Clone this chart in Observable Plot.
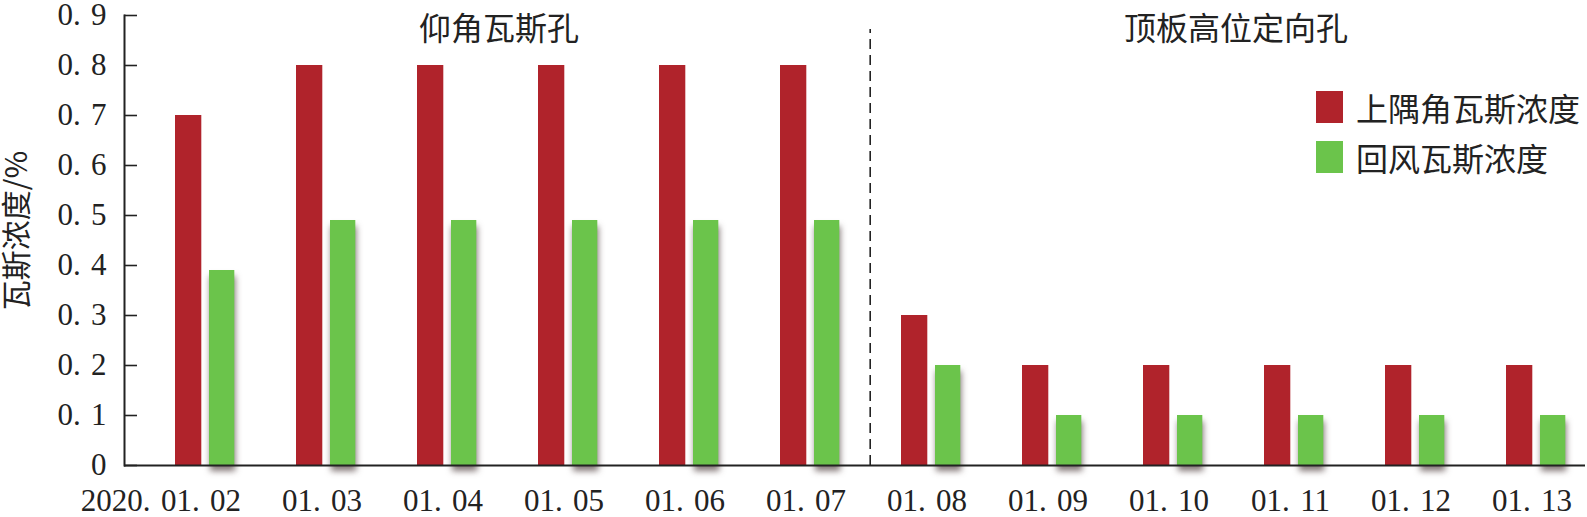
<!DOCTYPE html>
<html><head><meta charset="utf-8">
<script src="https://cdn.jsdelivr.net/npm/d3@7"></script>
<script src="https://cdn.jsdelivr.net/npm/@observablehq/plot@0.6"></script>
<style>
body{margin:0;background:#fff}
#wrap{position:relative;width:1587px;height:517px;overflow:hidden}
.legend{position:absolute;left:1316px;top:82px;font-family:"Noto Sans CJK SC",sans-serif;font-size:32px;color:#222;line-height:50px}
.legend .item{display:flex;align-items:center;height:50px}
.legend .sw{width:27px;height:32px;margin-right:13px;flex:none}
</style></head><body><div id="wrap"></div><script>
const dates = ["2020.01.02","01.03","01.04","01.05","01.06","01.07","01.08","01.09","01.10","01.11","01.12","01.13"];
const dateLabels = ["2020.\u200A 01.\u200A 02","01.\u200A 03","01.\u200A 04","01.\u200A 05","01.\u200A 06","01.\u200A 07","01.\u200A 08","01.\u200A 09","01.\u200A 10","01.\u200A 11","01.\u200A 12","01.\u200A 13"];
const upperCorner = [0.7,0.8,0.8,0.8,0.8,0.8,0.3,0.2,0.2,0.2,0.2,0.2];
const returnAir = [0.39,0.49,0.49,0.49,0.49,0.49,0.2,0.1,0.1,0.1,0.1,0.1];
const seriesNames = ["上隅角瓦斯浓度","回风瓦斯浓度"];
const seriesColors = ["#B0232B","#6BC44B"];
const sectionNames = ["仰角瓦斯孔","顶板高位定向孔"];
const sectionAt = ["01.05","01.11"];
const dividerAt = ["01.08"];
const yTicks = [0,0.1,0.2,0.3,0.4,0.5,0.6,0.7,0.8,0.9];
const yTickLabels = ["0","0.\u200A 1","0.\u200A 2","0.\u200A 3","0.\u200A 4","0.\u200A 5","0.\u200A 6","0.\u200A 7","0.\u200A 8","0.\u200A 9"];
const yTitle = "瓦斯浓度/%";

const rows = dates.map((d,i)=>({date:d, upper:upperCorner[i], ret:returnAir[i]}));
const cjk = '"Noto Sans CJK SC", sans-serif';

const chart = Plot.plot({
  width:1587, height:517,
  marginTop:15, marginBottom:52, marginLeft:124, marginRight:2,
  style:{fontFamily:'"Liberation Serif","Noto Sans CJK SC",serif', fontSize:"31px", color:"#222", background:"#fff", overflow:"visible"},
  x:{domain:dates, padding:0, insetLeft:16, insetRight:-15, label:null},
  y:{domain:[0,0.9], label:null},
  marks:[
    Plot.barY(rows,{x:"date", y:"upper", fill:seriesColors[0], insetLeft:31, insetRight:63.7}),
    Plot.barY(rows,{x:"date", y:"ret", fill:seriesColors[1], insetLeft:65, insetRight:30.7}),
    Plot.ruleX(dividerAt,{x:d=>d, y1:()=>0, y2:()=>0.872, dx:-60.8, stroke:"#222", strokeWidth:1.6, strokeDasharray:"10,6"}),
    Plot.ruleY([0],{stroke:"#222", strokeWidth:2}),
    Plot.frame({anchor:"left", stroke:"#222", strokeWidth:2}),
    Plot.axisY(yTicks,{tickSize:-13, tickPadding:31, tickFormat:(d,i)=>yTickLabels[i], stroke:"#222", strokeWidth:1.6, label:null}),
    Plot.axisX({tickSize:0, tickPadding:23, tickFormat:(d,i)=>dateLabels[i], textAnchor:"end", dx:36, label:null}),
    Plot.text([sectionNames[0]],{x:()=>sectionAt[0], frameAnchor:"top", dx:-69, dy:2, fontFamily:cjk, fontSize:32, fill:"#222"}),
    Plot.text([sectionNames[1]],{x:()=>sectionAt[1], frameAnchor:"top", dx:-58, dy:2, fontFamily:cjk, fontSize:32, fill:"#222"}),
    Plot.text([yTitle],{frameAnchor:"left", textAnchor:"middle", rotate:-90, dx:-107, dy:-10, fontFamily:cjk, fontSize:30, fill:"#222"})
  ]
});
const wrap = document.getElementById("wrap");
wrap.appendChild(chart);
const bars = chart.querySelectorAll('g[aria-label="bar"]');
if (bars[1]) bars[1].style.filter = "drop-shadow(1px 6px 3px rgba(50,30,30,0.6))";
if (bars[0]) bars[0].style.filter = "drop-shadow(0px 0px 1px rgba(255,255,255,0.8))";

const legend = document.createElement("div");
legend.className = "legend";
seriesNames.forEach((n,i)=>{
  const it = document.createElement("div"); it.className="item";
  const sw = document.createElement("div"); sw.className="sw"; sw.style.background=seriesColors[i];
  const t = document.createElement("span"); t.textContent=n;
  it.appendChild(sw); it.appendChild(t); legend.appendChild(it);
});
wrap.appendChild(legend);
</script></body></html>
